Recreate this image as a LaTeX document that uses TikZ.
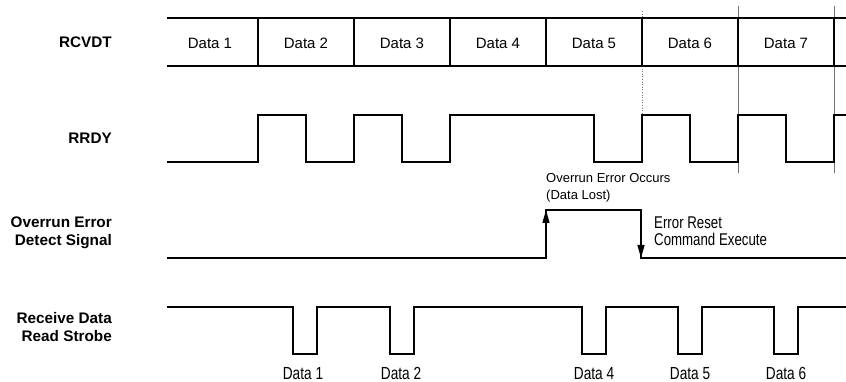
\documentclass[tikz,border=0pt]{standalone}
\usepackage{fontspec}
\setmainfont{Liberation Sans}
\newfontfamily\narrowfont[FakeStretch=0.78]{Liberation Sans}
\usetikzlibrary{arrows.meta}
\begin{document}
\begin{tikzpicture}[x=1pt,y=-1pt,
  sig/.style={line width=1.3pt, line join=miter},
  bus/.style={line width=1.3pt},
  guide/.style={line width=0.6pt, black!55},
  lbl/.style={font=\fontsize{15.3}{18}\selectfont\bfseries, align=right, anchor=east, inner sep=0pt},
  cell/.style={font=\fontsize{15}{17}\selectfont, inner sep=0pt, anchor=base},
  note/.style={font=\fontsize{13}{16.5}\selectfont, align=left, anchor=west, inner sep=0pt},
  nnote/.style={font=\narrowfont\fontsize{17}{17}\selectfont, align=left, anchor=west, inner sep=0pt},
  strobelbl/.style={font=\narrowfont\fontsize{17.5}{18}\selectfont, inner sep=0pt, anchor=base},
  arr/.style={line width=1.3pt, -{Triangle[length=13pt,width=7pt]}}]
\useasboundingbox (0,0) rectangle (846,382);

% guide lines
\draw[guide] (738,6) -- (738,173);
\draw[guide] (834,6) -- (834,173);
\draw[guide, dotted] (642,11) -- (642,18);
\draw[guide, dotted] (642,66) -- (642,163);

% RCVDT bus
\draw[bus] (167,18) -- (846,18);
\draw[bus] (167,66) -- (846,66);
\foreach \x in {258,354,450,546,642,738,834}
  \draw[bus] (\x,18) -- (\x,66);
\node[cell] (d1) at (210,48.5) {Data 1};
\node[cell] (d2) at (306,48.5) {Data 2};
\node[cell] (d3) at (402,48.5) {Data 3};
\node[cell] (d4) at (498,48.5) {Data 4};
\node[cell] (d5) at (594,48.5) {Data 5};
\node[cell] (d6) at (690,48.5) {Data 6};
\node[cell] (d7) at (786,48.5) {Data 7};

% RRDY
\draw[sig] (167,162) -| (258,115) -| (306,162) -| (354,115) -| (402,162)
  -| (450,115) -| (594,162) -| (642,115) -| (690,162) -| (738,115)
  -| (786,162) -| (834,115) -- (846,115);

% Overrun error
\draw[sig] (167,258) -- (546,258) -- (546,210) -- (641,210) -- (641,258) -- (846,258);
\draw[arr] (546,258) -- (546,210);
\draw[arr] (641,210) -- (641,258);
\node[note] (occ) at (546,188) {Overrun Error Occurs\\(Data Lost)};
\node[nnote] (rst) at (654,231.5) {Error Reset\\Command Execute};

% Read strobe
\draw[sig] (167,307) -| (293,354) -| (317,307) -| (390,354) -| (414,307)
  -| (582,354) -| (606,307) -| (678,354) -| (702,307) -| (774,354)
  -| (798,307) -- (846,307);
\node[strobelbl] (s1) at (303,379) {Data 1};
\node[strobelbl] (s2) at (401,379) {Data 2};
\node[strobelbl] (s4) at (594,379) {Data 4};
\node[strobelbl] (s5) at (690,379) {Data 5};
\node[strobelbl] (s6) at (786,379) {Data 6};

% left labels
\node[lbl] (l1) at (112,42) {RCVDT};
\node[lbl] (l2) at (112,138) {RRDY};
\node[lbl] (l3) at (112,233) {Overrun Error\\Detect Signal};
\node[lbl] (l4) at (112,327.5) {Receive Data\\Read Strobe};
\end{tikzpicture}
\end{document}
